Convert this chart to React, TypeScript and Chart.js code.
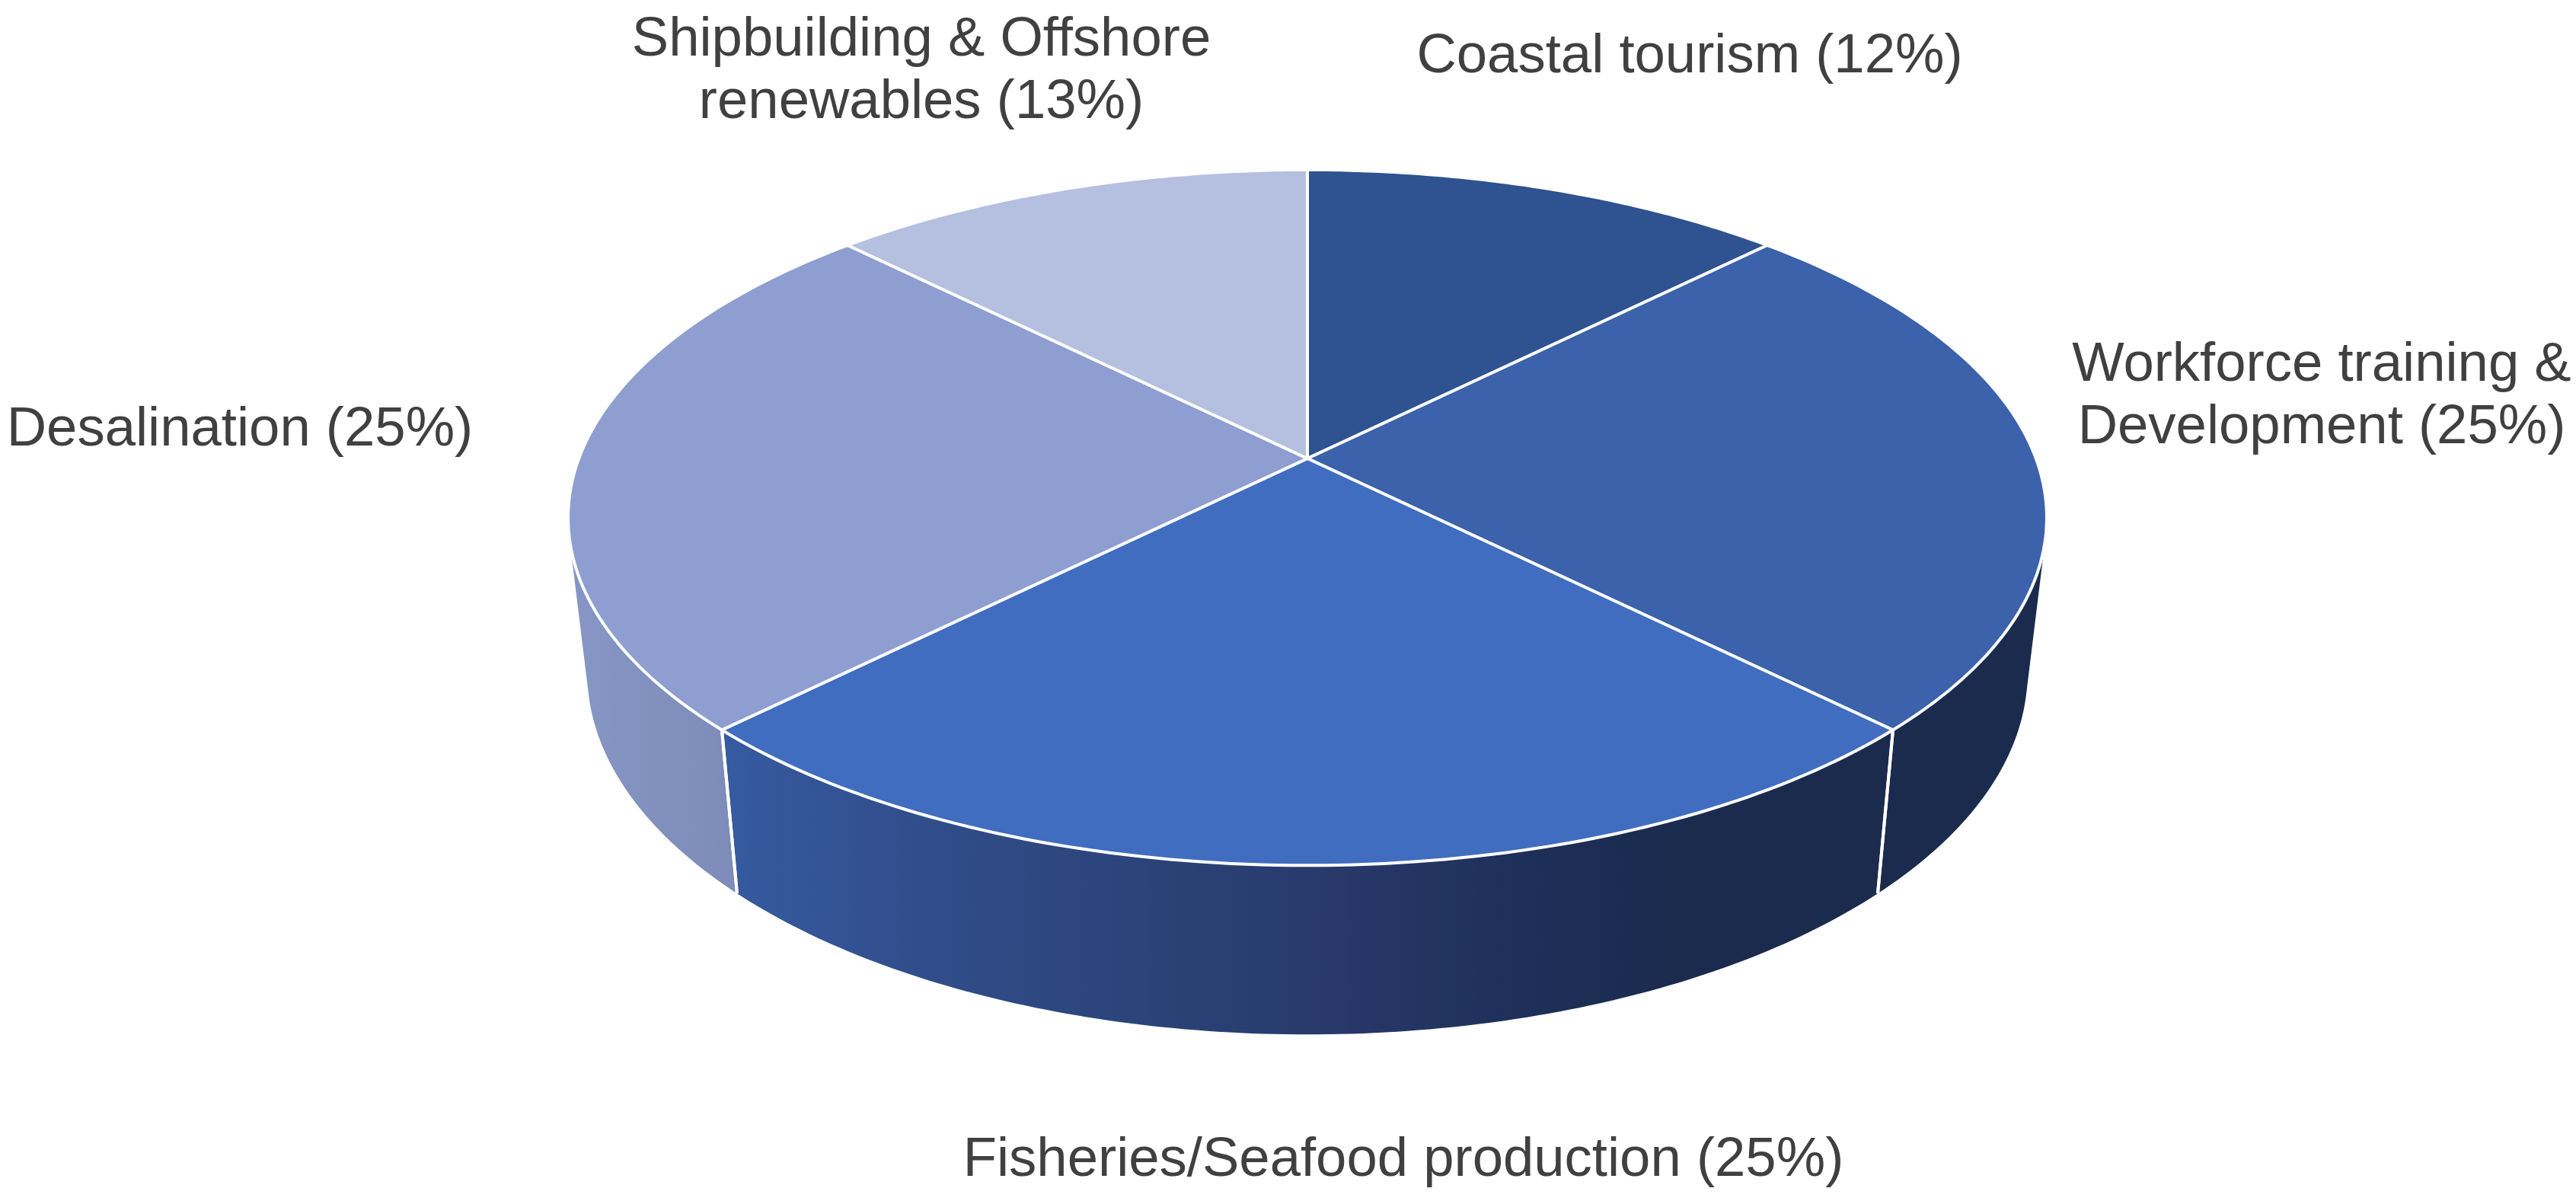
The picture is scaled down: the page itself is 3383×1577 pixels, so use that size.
import React, { useEffect, useRef } from "react";
import { Chart, ArcElement, PieController } from "chart.js";

const categories = [
  "Coastal tourism",
  "Workforce training & Development",
  "Fisheries/Seafood production",
  "Desalination",
  "Shipbuilding & Offshore renewables",
];
// Labelled shares; the two small slices are drawn equal in the picture (12.5 each).
const labelledShares = [12, 25, 25, 25, 13];
const sliceValues = [12.5, 25, 25, 25, 12.5];
const topColors = ["#2f5290", "#3b62aa", "#406dbf", "#8e9ed1", "#b5bfdf"];

const WIDTH = 3383;
const HEIGHT = 1577;

// Perspective of the disc, as ratios of the library's computed outer radius
const PERSPECTIVE = { k: 0.17, ax: 960 / 602, by: 445 / 602 };
const FLOOR = { xScale: 0.974, shift: 201 / 602, by: 463 / 602 };

const wallStops: [number, string][][] = [
  [],
  [[0, "#1a2b4e"], [1, "#1a2b4e"]],
  [
    [0.0, "#3a60aa"],
    [0.1, "#365a9f"],
    [0.2, "#32508f"],
    [0.4, "#2a4276"],
    [0.5, "#293a6c"],
    [0.62, "#1f315c"],
    [0.75, "#1a2b4e"],
    [1, "#1a2b4e"],
  ],
  [
    [0, "#8595c4"],
    [0.1, "#7d8cb8"],
    [0.32, "#7a88ae"],
    [1, "#7a88ae"],
  ],
  [],
];

const labelLines = [
  ["Coastal tourism (12%)"],
  ["Workforce training &", "Development (25%)"],
  ["Fisheries/Seafood production (25%)"],
  ["Desalination (25%)"],
  ["Shipbuilding & Offshore", "renewables (13%)"],
];
const labelAnchors = [
  { x: 2219, y: 95 },
  { x: 3049, y: 500 },
  { x: 1843, y: 1544 },
  { x: 315, y: 585 },
  { x: 1210, y: 73 },
];
const LABEL_FONT = '72.5px "Liberation Sans"';
const LABEL_LINE_HEIGHT = 82;
const LABEL_COLOR = "#404040";

function topPoint(el: any, a: number) {
  const u = Math.cos(a), v = Math.sin(a), d = 1 - PERSPECTIVE.k * v;
  const R = el.outerRadius;
  return [el.x + (R * PERSPECTIVE.ax * u) / d, el.y + (R * PERSPECTIVE.by * v) / d];
}
function floorPoint(el: any, a: number) {
  const u = Math.cos(a), v = Math.sin(a), d = 1 - PERSPECTIVE.k * v;
  const R = el.outerRadius;
  return [
    el.x + (R * PERSPECTIVE.ax * FLOOR.xScale * u) / d,
    el.y + R * FLOOR.shift + (R * FLOOR.by * v) / d,
  ];
}

class Arc3D extends ArcElement {
  static id = "arc3d";
  draw(ctx: CanvasRenderingContext2D) {
    const el: any = this;
    const { x, y, startAngle, endAngle } = el;
    const steps = 90;
    ctx.save();
    ctx.beginPath();
    ctx.moveTo(x, y);
    for (let i = 0; i <= steps; i++) {
      const [px, py] = topPoint(el, startAngle + ((endAngle - startAngle) * i) / steps);
      ctx.lineTo(px, py);
    }
    ctx.closePath();
    ctx.fillStyle = el.options.backgroundColor;
    ctx.fill();
    ctx.strokeStyle = el.options.borderColor;
    ctx.lineWidth = el.options.borderWidth;
    ctx.lineJoin = "round";
    ctx.stroke();
    ctx.restore();
  }
  drawWall(ctx: CanvasRenderingContext2D, stops: [number, string][]) {
    const el: any = this;
    if (!stops.length) return;
    const { startAngle, endAngle } = el;
    const steps = 120;
    const halfW = el.outerRadius * PERSPECTIVE.ax;
    const g = ctx.createLinearGradient(el.x - halfW + 15, 0, el.x + halfW, 0);
    stops.forEach(([o, c]) => g.addColorStop(o, c));
    ctx.save();
    ctx.beginPath();
    for (let i = 0; i < steps; i++) {
      const a0 = startAngle + ((endAngle - startAngle) * i) / steps;
      const a1 = startAngle + ((endAngle - startAngle) * (i + 1)) / steps;
      const q = [topPoint(el, a0), topPoint(el, a1), floorPoint(el, a1), floorPoint(el, a0)];
      let area = 0;
      for (let j = 0; j < 4; j++) {
        const p = q[j], n = q[(j + 1) % 4];
        area += p[0] * n[1] - n[0] * p[1];
      }
      if (area < 0) q.reverse();
      ctx.moveTo(q[0][0], q[0][1]);
      for (let j = 1; j < 4; j++) ctx.lineTo(q[j][0], q[j][1]);
      ctx.closePath();
    }
    ctx.fillStyle = g;
    ctx.fill("nonzero");
    ctx.restore();
  }
  drawSeams(ctx: CanvasRenderingContext2D) {
    const el: any = this;
    [el.startAngle, el.endAngle].forEach((a: number) => {
      if (Math.sin(a) < 0.3) return;
      const t = topPoint(el, a), f = floorPoint(el, a);
      ctx.save();
      ctx.beginPath();
      ctx.moveTo(t[0], t[1]);
      ctx.lineTo(f[0], f[1]);
      ctx.strokeStyle = el.options.borderColor;
      ctx.lineWidth = el.options.borderWidth;
      ctx.stroke();
      ctx.restore();
    });
  }
}

class Pie3D extends PieController {
  static id = "pie3d";
  static defaults = { dataElementType: "arc3d" };
  draw() {
    const ctx = this.chart.ctx;
    const els = this.getMeta().data as any[];
    els.forEach((el, i) => el.drawWall(ctx, wallStops[i]));
    els.forEach((el) => el.drawSeams(ctx));
    super.draw();
  }
}

const labelPlugin = {
  id: "sliceLabels",
  afterDraw(chart: any) {
    const ctx = chart.ctx;
    ctx.save();
    ctx.font = LABEL_FONT;
    ctx.fillStyle = LABEL_COLOR;
    ctx.textAlign = "center";
    ctx.textBaseline = "alphabetic";
    labelLines.forEach((lines, i) => {
      lines.forEach((t, j) =>
        ctx.fillText(t, labelAnchors[i].x, labelAnchors[i].y + j * LABEL_LINE_HEIGHT)
      );
    });
    ctx.restore();
  },
};

Chart.register(ArcElement, Arc3D as any, Pie3D as any);

export default function App() {
  const ref = useRef<HTMLCanvasElement>(null);
  useEffect(() => {
    document.body.style.margin = "0";
    const chart = new Chart(ref.current!, {
      type: "pie3d" as any,
      data: {
        labels: categories.map((c, i) => `${c} (${labelledShares[i]}%)`),
        datasets: [
          {
            data: sliceValues,
            backgroundColor: topColors,
            borderColor: "#ffffff",
            borderWidth: 4,
          },
        ],
      },
      options: {
        responsive: false,
        animation: false,
        layout: { padding: { left: 51, right: 0, top: 0, bottom: 373 } },
        plugins: { legend: { display: false }, tooltip: { enabled: false } },
      } as any,
      plugins: [labelPlugin],
    });
    return () => chart.destroy();
  }, []);
  return <canvas ref={ref} width={WIDTH} height={HEIGHT} style={{ display: "block", width: WIDTH, height: HEIGHT }} />;
}
